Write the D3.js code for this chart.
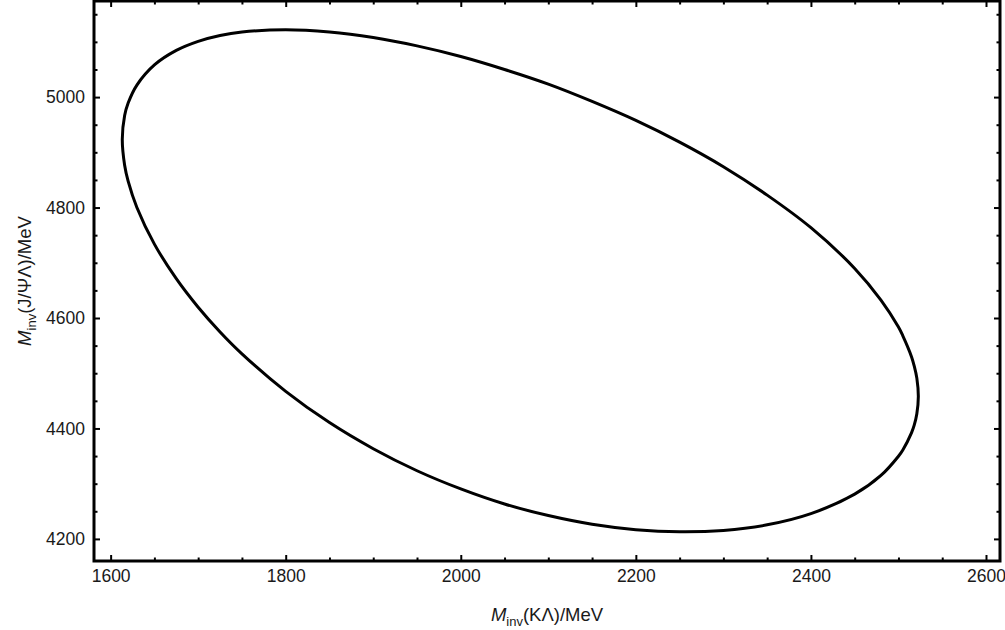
<!DOCTYPE html>
<html>
<head>
<meta charset="utf-8">
<title>Dalitz boundary</title>
<script src="https://cdnjs.cloudflare.com/ajax/libs/d3/7.8.5/d3.min.js"></script>
<style>
  body { margin: 0; background: #ffffff; }
  svg { display: block; }
</style>
</head>
<body>
<script>
// values (MeV)
// invariant mass of K Lambda along the boundary, left to right
var mKLam = [1613.3, 1616, 1620, 1630, 1650, 1675, 1700, 1725, 1750, 1800,
             1850, 1900, 1950, 2000, 2050, 2100, 2150, 2200, 2250, 2300,
             2350, 2400, 2450, 2480, 2500, 2505, 2515, 2518, 2521, 2522.7];
// upper and lower edge of M(J/Psi Lambda) at those points
var mUpper = [4923.7, 4966.5, 4989.2, 5021.8, 5058.3, 5084.6, 5101.0, 5111.6,
              5117.9, 5122.0, 5117.9, 5107.8, 5092.7, 5073.5, 5050.0, 5023.5,
              4992.2, 4957.8, 4918.5, 4874.0, 4822.5, 4763.5, 4689.8, 4632.4,
              4583.6, 4567.8, 4529.6, 4513.2, 4491.1, 4457.8];
var mLower = [4923.7, 4876.7, 4847.9, 4800.2, 4733.8, 4671.3, 4619.6, 4574.8,
              4535.2, 4467.2, 4410.6, 4363.3, 4323.4, 4290.5, 4263.2, 4242.3,
              4226.6, 4216.8, 4212.9, 4215.4, 4225.5, 4245.8, 4281.0, 4314.9,
              4349.7, 4361.0, 4392.5, 4405.9, 4426.5, 4457.8];

// ticks
var xMajor = [1600, 1800, 2000, 2200, 2400, 2600];
var yMajor = [4200, 4400, 4600, 4800, 5000];
var xMinor = d3.range(1600, 2601, 50).filter(function(d) { return d % 200 !== 0; });
var yMinor = d3.range(4200, 5151, 50).filter(function(d) { return d % 200 !== 0; });

var w = 1005;
var h = 630;
// plot frame in pixels ("top" is taken by window.top)
var frameL = 94, frameR = 1000, frameT = 1, frameB = 561;
var font = "'Liberation Sans', Arial, Helvetica, sans-serif";
var textColor = "#1a1a1a";

var svg = d3.select("body")
            .append("svg")
            .attr("width", w)
            .attr("height", h);

var xScale = d3.scaleLinear()
               .domain([1581, 2616])
               .range([frameL, frameR]);
var yScale = d3.scaleLinear()
               .domain([4160, 5174])
               .range([frameB, frameT]);

// closed boundary: upper edge left to right, lower edge back
var points = [];
mKLam.forEach(function(m, i) {
  points.push([m, mUpper[i]]);
});
for (var i = mKLam.length - 2; i > 0; i--) {
  points.push([mKLam[i], mLower[i]]);
}

var line = d3.line()
             .x(function(d) { return xScale(d[0]); })
             .y(function(d) { return yScale(d[1]); })
             .curve(d3.curveCatmullRomClosed.alpha(0.5));

svg.append("path")
   .datum(points)
   .attr("d", line)
   .attr("fill", "none")
   .attr("stroke", "#000")
   .attr("stroke-width", 3);

// axes with inward ticks on all four sides
function drawAxis(axis, tx, ty, labels) {
  var g = svg.append("g")
             .attr("transform", "translate(" + tx + "," + ty + ")")
             .call(axis);
  g.select(".domain").remove();
  g.selectAll(".tick line")
   .attr("stroke", "#000")
   .attr("stroke-width", 2);
  g.attr("font-size", 17.5)
   .attr("font-family", font);
  g.selectAll(".tick text").attr("fill", textColor);
  if (!labels) g.selectAll(".tick text").remove();
}

drawAxis(d3.axisBottom(xScale).tickValues(xMajor).tickSize(-6).tickPadding(9)
           .tickFormat(d3.format("d")), 0, frameB, true);
drawAxis(d3.axisBottom(xScale).tickValues(xMinor).tickSize(-3.5), 0, frameB, false);
drawAxis(d3.axisTop(xScale).tickValues(xMajor).tickSize(-6), 0, frameT, false);
drawAxis(d3.axisTop(xScale).tickValues(xMinor).tickSize(-3.5), 0, frameT, false);
drawAxis(d3.axisLeft(yScale).tickValues(yMajor).tickSize(-6).tickPadding(9)
           .tickFormat(d3.format("d")), frameL, 0, true);
drawAxis(d3.axisLeft(yScale).tickValues(yMinor).tickSize(-3.5), frameL, 0, false);
drawAxis(d3.axisRight(yScale).tickValues(yMajor).tickSize(-6), frameR, 0, false);
drawAxis(d3.axisRight(yScale).tickValues(yMinor).tickSize(-3.5), frameR, 0, false);

// frame
svg.append("rect")
   .attr("x", frameL)
   .attr("y", frameT)
   .attr("width", frameR - frameL)
   .attr("height", frameB - frameT)
   .attr("fill", "none")
   .attr("stroke", "#000")
   .attr("stroke-width", 3);

// axis titles
function title(t, main, sub, rest) {
  t.attr("font-family", font)
   .attr("font-size", 18.5)
   .attr("fill", textColor)
   .attr("text-anchor", "middle");
  t.append("tspan").attr("font-style", "italic").text(main);
  t.append("tspan").attr("font-size", 13).attr("dy", 5).text(sub);
  t.append("tspan").attr("dy", -5).text(rest);
}

title(svg.append("text")
         .attr("x", (frameL + frameR) / 2)
         .attr("y", 621),
      "M", "inv", "(K\u039B)/MeV");

title(svg.append("text")
         .attr("transform", "translate(31," + ((frameT + frameB) / 2) + ") rotate(-90)"),
      "M", "inv", "(J/\u03A8\u039B)/MeV");
</script>
</body>
</html>
